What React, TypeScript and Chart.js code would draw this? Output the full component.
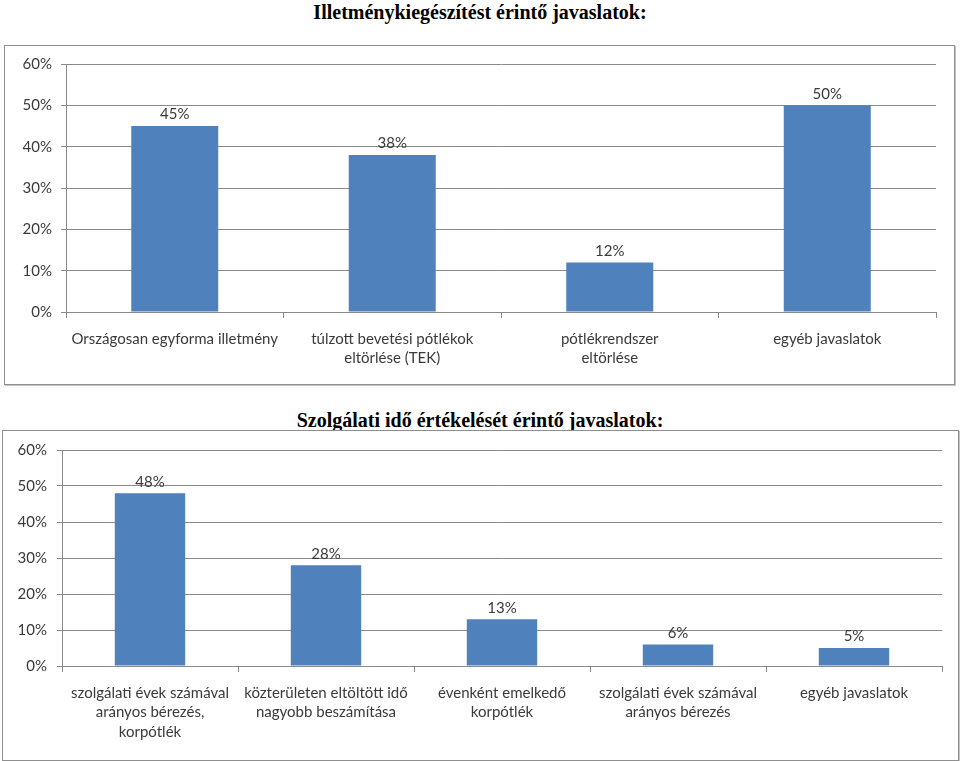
import React, { useEffect, useRef } from "react";
import { Chart, registerables } from "chart.js";

Chart.register(...registerables);

const title1 = "Illetménykiegészítést érintő javaslatok:";
const categories1: string[][] = [
  ["Országosan egyforma illetmény"],
  ["túlzott bevetési pótlékok", "eltörlése (TEK)"],
  ["pótlékrendszer", "eltörlése"],
  ["egyéb javaslatok"],
];
const values1: number[] = [45, 38, 12, 50];

const title2 = "Szolgálati idő értékelését érintő javaslatok:";
const categories2: string[][] = [
  ["szolgálati évek számával", "arányos bérezés,", "korpótlék"],
  ["közterületen eltöltött idő", "nagyobb beszámítása"],
  ["évenként emelkedő", "korpótlék"],
  ["szolgálati évek számával", "arányos bérezés"],
  ["egyéb javaslatok"],
];
const values2: number[] = [48, 28, 13, 6, 5];

const yTicks: number[] = [0, 10, 20, 30, 40, 50, 60];

const BAR = "#4F81BD";
const GRID = "#8a8a8a";
const TEXT = "#3a3a3a";
const FONT = "Lato, 'Open Sans', sans-serif";

const dataLabelPlugin = {
  id: "dataLabels",
  afterDatasetsDraw(chart: any) {
    const ctx = chart.ctx;
    ctx.save();
    ctx.font = `15px ${FONT}`;
    ctx.fillStyle = TEXT;
    ctx.textAlign = "center";
    ctx.textBaseline = "bottom";
    chart.data.datasets.forEach((ds: any, di: number) => {
      const meta = chart.getDatasetMeta(di);
      meta.data.forEach((bar: any, i: number) => {
        ctx.fillText(`${ds.data[i]}%`, bar.x, bar.y - 4);
      });
    });
    ctx.restore();
  },
};

type BoxProps = {
  labels: string[][];
  values: number[];
  yWidth: number;
  xHeight: number;
  padRight: number;
  padTop: number;
  yPad: number;
  xPad: number;
  w: number;
  h: number;
};

function BarCanvas(props: BoxProps) {
  const ref = useRef<HTMLCanvasElement | null>(null);
  useEffect(() => {
    if (!ref.current) return;
    const { labels, values, yWidth, xHeight, padRight, padTop, yPad, xPad } = props;
    const chart = new Chart(ref.current, {
      type: "bar",
      data: {
        labels: labels,
        datasets: [
          {
            data: values,
            backgroundColor: BAR,
            borderWidth: 0,
            categoryPercentage: 1,
            barPercentage: 0.4,
          },
        ],
      },
      options: {
        animation: false,
        responsive: false,
        maintainAspectRatio: false,
        layout: { padding: { left: 0, right: padRight, top: padTop, bottom: 0 } },
        plugins: { legend: { display: false }, tooltip: { enabled: false }, title: { display: false } },
        scales: {
          x: {
            grid: { drawOnChartArea: false, drawTicks: true, tickLength: 6, color: GRID, offset: true },
            border: { display: true, color: GRID, width: 1 },
            ticks: {
              color: TEXT,
              font: { family: FONT, size: 15, lineHeight: 1.3 },
              padding: xPad,
              maxRotation: 0,
              autoSkip: false,
            },
            afterFit: (s: any) => {
              s.height = xHeight;
            },
          },
          y: {
            min: 0,
            max: 60,
            afterBuildTicks: (s: any) => {
              s.ticks = yTicks.map((v) => ({ value: v }));
            },
            grid: { color: GRID, tickLength: 5, drawTicks: true },
            border: { display: true, color: GRID, width: 1 },
            ticks: {
              color: TEXT,
              font: { family: FONT, size: 15 },
              padding: yPad,
              callback: (v: any) => `${v}%`,
            },
            afterFit: (s: any) => {
              s.width = yWidth;
            },
          },
        },
      },
      plugins: [dataLabelPlugin],
    });
    return () => chart.destroy();
  }, []);
  return <canvas ref={ref} width={props.w} height={props.h} style={{ width: props.w, height: props.h, display: "block" }} />;
}

const titleStyle: React.CSSProperties = {
  position: "absolute",
  left: 0,
  width: 960,
  textAlign: "center",
  fontFamily: "'Liberation Serif', 'Times New Roman', serif",
  fontWeight: "bold",
  fontSize: 20,
  lineHeight: "24px",
  color: "#000",
};

const boxStyle: React.CSSProperties = {
  position: "absolute",
  border: "1px solid #8f8f8f",
  boxSizing: "border-box",
  boxShadow: "1px 1px 0 #c4c4c4",
  background: "#fff",
};

export default function App() {
  return (
    <div style={{ position: "fixed", left: 0, top: 0, width: 960, height: 761, background: "#fff", overflow: "hidden" }}>
      <div style={{ ...titleStyle, top: 0 }}>{title1}</div>
      <div style={{ ...boxStyle, left: 4, top: 45, width: 951, height: 340 }}>
        <BarCanvas w={949} h={338} labels={categories1} values={values1} yWidth={61} xHeight={72} padRight={18} padTop={18} yPad={9} xPad={11} />
      </div>
      <div style={{ ...titleStyle, top: 408 }}>{title2}</div>
      <div style={{ ...boxStyle, left: 2, top: 430, width: 957, height: 331 }}>
        <BarCanvas w={955} h={329} labels={categories2} values={values2} yWidth={59} xHeight={94} padRight={16} padTop={18} yPad={10} xPad={11} />
      </div>
    </div>
  );
}
